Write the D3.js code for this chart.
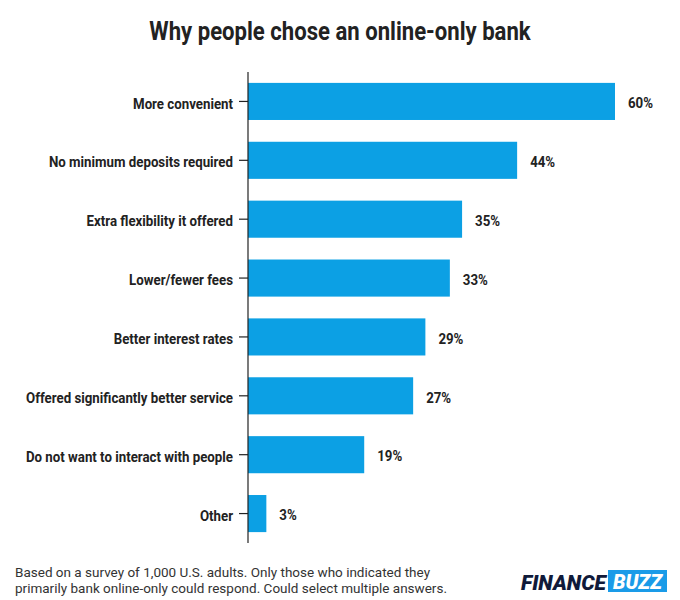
<!DOCTYPE html>
<html><head><meta charset="utf-8">
<script src="https://cdn.jsdelivr.net/npm/d3@7"></script>
<style>body{margin:0;background:#fff}</style>
</head><body>
<svg id="c" width="680" height="600"></svg>
<script>
const categories = ["More convenient","No minimum deposits required","Extra flexibility it offered","Lower/fewer fees","Better interest rates","Offered significantly better service","Do not want to interact with people","Other"];
const values = [60,44,35,33,29,27,19,3];
const valueLabels = ["60%","44%","35%","33%","29%","27%","19%","3%"];
const title = "Why people chose an online-only bank";
const footnote = ["Based on a survey of 1,000 U.S. adults. Only those who indicated they","primarily bank online-only could respond. Could select multiple answers."];

const svg = d3.select("#c");
const F = "Roboto, 'Noto Sans', sans-serif";
const SX = 0.885;
const x = d3.scaleLinear().domain([0,60]).range([248,615]);
const y = d3.scaleBand().domain(categories).range([72,543]).paddingInner(0.37).paddingOuter(0.185);

svg.append("text").attr("transform",`translate(340,40) scale(${SX},1)`).attr("text-anchor","middle")
  .attr("font-family",F).attr("font-weight",700).attr("font-size",25).attr("fill","#222").text(title);

svg.append("g").selectAll("rect").data(values).join("rect")
  .attr("x",x(0)).attr("y",(d,i)=>y(categories[i])).attr("width",d=>x(d)-x(0)).attr("height",y.bandwidth())
  .attr("fill","#0ca0e4");

const ax = svg.append("g").attr("transform",`translate(${x(0)},0)`).call(d3.axisLeft(y).tickSize(9).tickPadding(6));
ax.select(".domain").attr("stroke","#222").attr("stroke-width",1.2).attr("d","M0,72V543");
ax.selectAll(".tick line").attr("stroke","#222").attr("stroke-width",1.2);
ax.selectAll(".tick text").attr("font-family",F).attr("font-weight",700).attr("font-size",15).attr("fill","#222")
  .attr("x",-15/SX).attr("dy","0.47em").attr("transform",`scale(${SX},1)`);

svg.append("g").selectAll("text").data(values).join("text")
  .attr("transform",(d,i)=>`translate(${x(d)+13},${y(categories[i])+y.bandwidth()/2}) scale(${SX},1)`).attr("dy","0.45em")
  .attr("font-family",F).attr("font-weight",700).attr("font-size",15).attr("fill","#222").text((d,i)=>valueLabels[i]);

svg.append("g").selectAll("text").data(footnote).join("text")
  .attr("x",15).attr("y",(d,i)=>577+i*16).attr("font-family",F).attr("font-size",13.5).attr("fill","#333").text(d=>d);

const logo = svg.append("g");
logo.append("text").attr("x",521).attr("y",590).attr("font-family",F).attr("font-weight",900).attr("font-style","italic")
  .attr("font-size",21).attr("fill","#101a3a").attr("textLength",85).attr("lengthAdjust","spacingAndGlyphs").text("FINANCE");
logo.append("rect").attr("x",608).attr("y",570).attr("width",59).attr("height",22).attr("fill","#1a9be8");
logo.append("text").attr("x",613).attr("y",589).attr("font-family",F).attr("font-weight",900).attr("font-style","italic")
  .attr("font-size",21).attr("fill","#fff").attr("textLength",49).attr("lengthAdjust","spacingAndGlyphs").text("BUZZ");
</script>
</body></html>
